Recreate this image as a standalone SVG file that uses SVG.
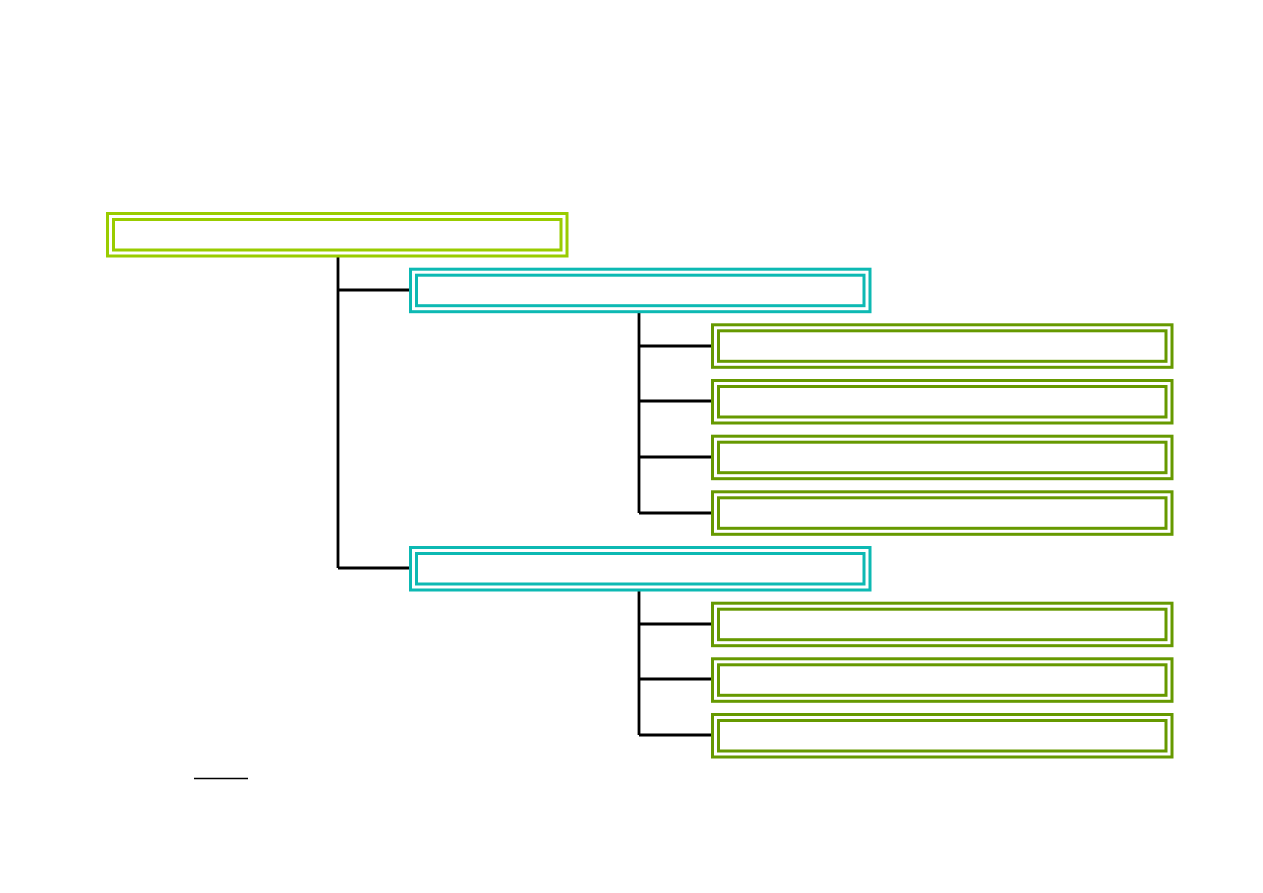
<svg xmlns="http://www.w3.org/2000/svg" width="1263" height="893" viewBox="0 0 1263 893">
<style>
.o{fill:none;stroke-width:3}
.i{fill:#fff;stroke-width:3}
.r{stroke:#99CC00}
.t{stroke:#0DB9B3}
.g{stroke:#669900}
.c{fill:none;stroke:#000;stroke-width:2.8}
</style>
<rect width="1263" height="893" fill="#fff"/>
<g id="connectors">
<path class="c" d="M338 257V568M338 290H409M338 568H409"/>
<path class="c" d="M639 313V513M639 346H711M639 401H711M639 457H711M639 513H711"/>
<path class="c" d="M639 591V735M639 624H711M639 679H711M639 735H711"/>
<line x1="194" y1="778.5" x2="248" y2="778.5" stroke="#000" stroke-width="1.3"/>
</g>
<g id="root"><rect class="o r" x="107.5" y="213.5" width="459.5" height="42.5"/><rect class="i r" x="113.5" y="219.5" width="447.5" height="30.5"/></g>
<g id="a"><rect class="o t" x="410.5" y="269.2" width="459.5" height="42.5"/><rect class="i t" x="416.5" y="275.2" width="447.5" height="30.5"/></g>
<g id="a1"><rect class="o g" x="712.5" y="324.8" width="459.5" height="42.5"/><rect class="i g" x="718.5" y="330.8" width="447.5" height="30.5"/></g>
<g id="a2"><rect class="o g" x="712.5" y="380.5" width="459.5" height="42.5"/><rect class="i g" x="718.5" y="386.5" width="447.5" height="30.5"/></g>
<g id="a3"><rect class="o g" x="712.5" y="436.2" width="459.5" height="42.5"/><rect class="i g" x="718.5" y="442.2" width="447.5" height="30.5"/></g>
<g id="a4"><rect class="o g" x="712.5" y="491.8" width="459.5" height="42.5"/><rect class="i g" x="718.5" y="497.8" width="447.5" height="30.5"/></g>
<g id="b"><rect class="o t" x="410.5" y="547.5" width="459.5" height="42.5"/><rect class="i t" x="416.5" y="553.5" width="447.5" height="30.5"/></g>
<g id="b1"><rect class="o g" x="712.5" y="603.2" width="459.5" height="42.5"/><rect class="i g" x="718.5" y="609.2" width="447.5" height="30.5"/></g>
<g id="b2"><rect class="o g" x="712.5" y="658.8" width="459.5" height="42.5"/><rect class="i g" x="718.5" y="664.8" width="447.5" height="30.5"/></g>
<g id="b3"><rect class="o g" x="712.5" y="714.5" width="459.5" height="42.5"/><rect class="i g" x="718.5" y="720.5" width="447.5" height="30.5"/></g>
</svg>
